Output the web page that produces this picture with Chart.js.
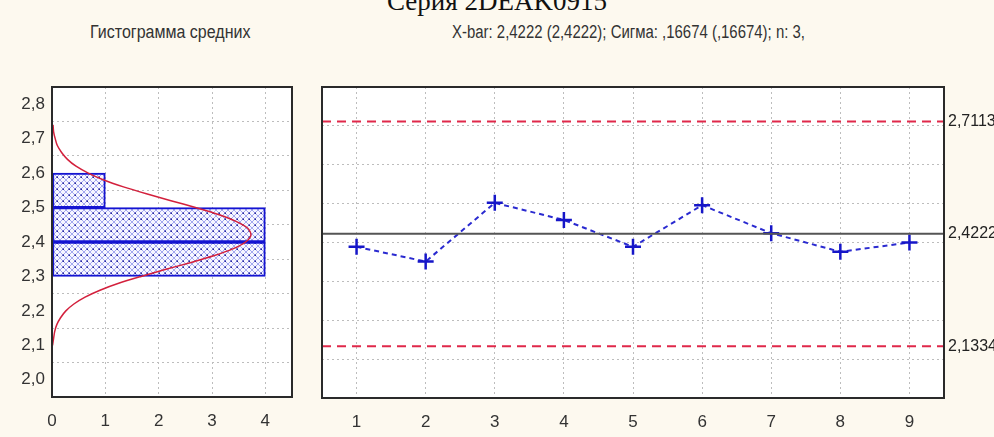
<!DOCTYPE html>
<html>
<head>
<meta charset="utf-8">
<script src="https://cdn.jsdelivr.net/npm/chart.js@4/dist/chart.umd.min.js"></script>
<style>
  body { margin: 0; width: 994px; height: 437px; background: #fdf9ef; overflow: hidden; position: relative; }
  .abs { position: absolute; }
  #title { top: -14px; left: 0; width: 994px; text-align: center; font: 27px "Liberation Serif", serif; color: #111; }
  .sub { top: 22px; font: 18px "Liberation Sans", sans-serif; color: #333; white-space: nowrap; transform-origin: 0 0; }
</style>
</head>
<body>
<div id="title" class="abs">Серия 2DEAK0915</div>
<div class="abs sub" id="histTitle" style="left:90px; transform: scaleX(0.89)">Гистограмма средних</div>
<div class="abs sub" id="xbarTitle" style="left:452px; transform: scaleX(0.83)">X-bar: 2,4222 (2,4222); Сигма: ,16674 (,16674); n: 3,</div>
<canvas id="hist" class="abs" width="310" height="437" style="left:0;top:0"></canvas>
<canvas id="xbar" class="abs" width="694" height="437" style="left:300px;top:0"></canvas>
<script>
// histogram of sample means
const histBins = [2.35, 2.45, 2.55];
const histCounts = [4, 4, 1];
const histCountTicks = [0, 1, 2, 3, 4];
// fitted normal curve
const curveLevels = [2.10, 2.12, 2.14, 2.16, 2.18, 2.20, 2.22, 2.24, 2.26, 2.28, 2.30, 2.32, 2.34, 2.36, 2.38, 2.40,
                     2.42, 2.44, 2.46, 2.48, 2.50, 2.52, 2.54, 2.56, 2.58, 2.60, 2.62, 2.64, 2.66, 2.68, 2.70, 2.72, 2.74];
const curveCounts = [0.01, 0.03, 0.05, 0.09, 0.16, 0.26, 0.41, 0.62, 0.90, 1.25, 1.67, 2.12, 2.59, 3.03, 3.39, 3.63,
                     3.73, 3.67, 3.45, 3.12, 2.69, 2.23, 1.77, 1.34, 0.97, 0.68, 0.45, 0.29, 0.18, 0.10, 0.06, 0.03, 0.02];
// X-bar chart
const sampleNumbers = [1, 2, 3, 4, 5, 6, 7, 8, 9];
const sampleMeans = [2.389, 2.351, 2.502, 2.458, 2.389, 2.496, 2.424, 2.376, 2.400];
const ucl = 2.7113;
const centerLine = 2.4222;
const lcl = 2.1334;
const valueTicks = [2.0, 2.1, 2.2, 2.3, 2.4, 2.5, 2.6, 2.7, 2.8];

const tickFont = '"Liberation Sans", sans-serif';
const gridColor = '#bdbdbd';

function hatchPattern() {
    const c = document.createElement('canvas');
    c.width = 6; c.height = 6;
    const g = c.getContext('2d');
    g.fillStyle = '#f7f7ff';
    g.fillRect(0, 0, 6, 6);
    g.strokeStyle = '#a4a9f0';
    g.lineWidth = 1;
    g.beginPath();
    g.moveTo(0, 0); g.lineTo(6, 6);
    g.moveTo(6, 0); g.lineTo(0, 6);
    g.stroke();
    g.fillStyle = '#26269a';
    g.fillRect(2.5, 2.5, 1.5, 1.5);
    return g.createPattern(c, 'repeat');
}

// white plot area and a dark frame round it
const framePlugin = {
    id: 'frame',
    beforeDraw(chart) {
        const a = chart.chartArea, ctx = chart.ctx;
        ctx.save();
        ctx.fillStyle = '#ffffff';
        ctx.fillRect(a.left, a.top, a.right - a.left, a.bottom - a.top);
        ctx.restore();
    },
    afterDraw(chart) {
        const a = chart.chartArea, ctx = chart.ctx;
        ctx.save();
        ctx.strokeStyle = '#2a2a2a';
        ctx.lineWidth = 2;
        ctx.strokeRect(a.left, a.top, a.right - a.left, a.bottom - a.top);
        ctx.restore();
    }
};

const fmt1 = v => v.toFixed(1).replace('.', ',');
const setTicks = list => scale => { scale.ticks = list.map(v => ({ value: v })); };

new Chart(document.getElementById('hist'), {
    type: 'bar',
    data: {
        datasets: [{
            type: 'line',
            data: curveLevels.map((y, i) => ({ x: curveCounts[i], y: y })),
            borderColor: '#d3203c',
            borderWidth: 1.5,
            pointRadius: 0,
            tension: 0.3,
            order: 0
        }, {
            type: 'bar',
            data: histBins.map((y, i) => ({ x: histCounts[i], y: y })),
            backgroundColor: hatchPattern(),
            borderColor: '#1414d2',
            borderWidth: 2,
            borderSkipped: false,
            barPercentage: 1,
            categoryPercentage: 1,
            order: 1
        }]
    },
    options: {
        indexAxis: 'y',
        responsive: false,
        animation: false,
        layout: { padding: { top: 87, right: 18, left: 0, bottom: 0 } },
        plugins: { legend: { display: false }, tooltip: { enabled: false } },
        scales: {
            x: {
                type: 'linear', min: 0, max: 4.5,
                afterBuildTicks: setTicks(histCountTicks),
                afterFit: s => { s.height = 40; },
                grid: { color: gridColor, drawTicks: false },
                border: { display: false, dash: [2, 3] },
                ticks: { padding: 14, color: '#333', font: { family: tickFont, size: 17 } }
            },
            y: {
                type: 'linear', min: 2.0, max: 2.8,
                afterBuildTicks: setTicks(valueTicks),
                afterFit: s => { s.width = 52; },
                grid: { color: gridColor, drawTicks: false },
                border: { display: false, dash: [2, 3] },
                ticks: { padding: 7, color: '#333', font: { family: tickFont, size: 17 }, callback: fmt1 }
            }
        }
    },
    plugins: [framePlugin]
});

const xMin = 0.5, xMax = 9.5;
const limitLine = (value, color, width, dash) => ({
    data: [{ x: xMin, y: value }, { x: xMax, y: value }],
    borderColor: color,
    borderWidth: width,
    borderDash: dash,
    pointRadius: 0
});

new Chart(document.getElementById('xbar'), {
    type: 'line',
    data: {
        datasets: [
            limitLine(ucl, '#e0284a', 2, [9, 6]),
            limitLine(lcl, '#e0284a', 2, [9, 6]),
            limitLine(centerLine, '#555555', 2, []),
            {
                data: sampleNumbers.map((x, i) => ({ x: x, y: sampleMeans[i] })),
                borderColor: '#2a2ad0',
                borderWidth: 2,
                borderDash: [5, 4],
                pointStyle: 'cross',
                pointRadius: 8,
                pointBorderWidth: 2.5,
                pointBorderColor: '#1616c8'
            }
        ]
    },
    options: {
        responsive: false,
        animation: false,
        layout: { padding: { top: 87, right: 0, left: 0, bottom: 0 } },
        plugins: { legend: { display: false }, tooltip: { enabled: false } },
        scales: {
            x: {
                type: 'linear', min: xMin, max: xMax,
                afterBuildTicks: setTicks(sampleNumbers),
                afterFit: s => { s.height = 39; },
                grid: { color: gridColor, drawTicks: false },
                border: { display: false, dash: [2, 3] },
                ticks: { padding: 14, color: '#333', font: { family: tickFont, size: 17 } }
            },
            y: {
                type: 'linear', min: 2.0, max: 2.8,
                afterBuildTicks: setTicks(valueTicks),
                afterFit: s => { s.width = 22; },
                grid: { color: gridColor, drawTicks: false },
                border: { display: false, dash: [2, 3] },
                ticks: { display: false }
            },
            y2: {
                type: 'linear', position: 'right', min: 2.0, max: 2.8,
                afterBuildTicks: setTicks([ucl, centerLine, lcl]),
                afterFit: s => { s.width = 50; },
                grid: { display: false, drawTicks: false },
                border: { display: false },
                ticks: { padding: 4, color: '#222', font: { family: tickFont, size: 16 },
                         callback: v => v.toFixed(4).replace('.', ',') }
            }
        }
    },
    plugins: [framePlugin]
});
</script>
</body>
</html>
